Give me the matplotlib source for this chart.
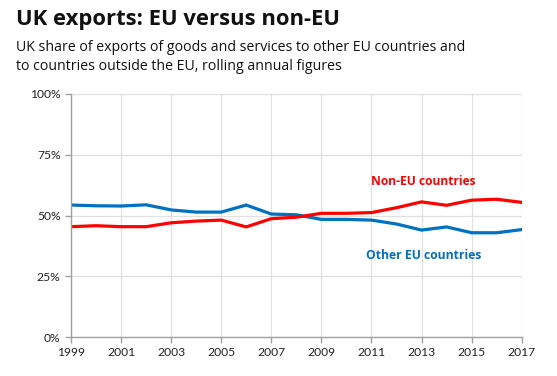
import matplotlib
matplotlib.use("Agg")
import matplotlib.pyplot as plt
from matplotlib.ticker import FuncFormatter

years = list(range(1999, 2018))
other_eu = [54.3, 54.0, 53.9, 54.4, 52.3, 51.4, 51.4, 54.3, 50.6, 50.3,
            48.4, 48.4, 48.1, 46.5, 44.0, 45.3, 42.9, 42.9, 44.2]
non_eu = [45.4, 45.8, 45.4, 45.4, 47.0, 47.7, 48.1, 45.3, 48.7, 49.3,
          50.9, 50.9, 51.2, 53.2, 55.6, 54.2, 56.3, 56.7, 55.4]
xticks = list(range(1999, 2018, 2))
yticks = [0, 25, 50, 75, 100]

title = "UK exports: EU versus non-EU"
subtitle = ("UK share of exports of goods and services to other EU countries and\n"
            "to countries outside the EU, rolling annual figures")

RED = "#ff0000"
BLUE = "#0070c0"

fig = plt.figure(figsize=(5.57, 3.76), dpi=100)
ax = fig.add_axes([71/557, 39/376, (521.7-71)/557, (337-94)/376])

ax.plot(years, other_eu, color=BLUE, lw=2.3, solid_joinstyle="miter")
ax.plot(years, non_eu, color=RED, lw=2.3, solid_joinstyle="miter")

ax.set_xlim(1999, 2017)
ax.set_ylim(0, 100)
ax.set_xticks(xticks)
ax.set_yticks(yticks)
ax.yaxis.set_major_formatter(FuncFormatter(lambda v, p: f"{int(v)}%"))
ax.grid(True, color="#e0e0e0", lw=0.9)
ax.set_axisbelow(True)
for s in ["top", "right"]:
    ax.spines[s].set_visible(False)
for s in ["left", "bottom"]:
    ax.spines[s].set_color("#a0a0a0")
    ax.spines[s].set_linewidth(1)
ax.tick_params(axis="both", colors="#a0a0a0", length=4, width=1,
               labelcolor="#222222", labelsize=8.7)
for lab in ax.get_xticklabels() + ax.get_yticklabels():
    lab.set_family("Lato")

ax.text(2011, 64, "Non-EU countries", color=RED, fontsize=8.65, fontweight="bold",
        family="Open Sans", va="center", ha="left")
ax.text(2010.8, 33.5, "Other EU countries", color=BLUE, fontsize=8.7, fontweight="bold",
        family="Open Sans", va="center", ha="left")

fig.text(16/557, 1 - 19/376, title, fontsize=15.8, fontweight="bold",
         family="Open Sans", va="center", ha="left", color="#111111")
fig.text(16/557, 1 - 57/376, subtitle, fontsize=10.2, family="Open Sans",
         va="center", ha="left", color="#111111", linespacing=1.4)

fig.savefig("out.png", dpi=100)
